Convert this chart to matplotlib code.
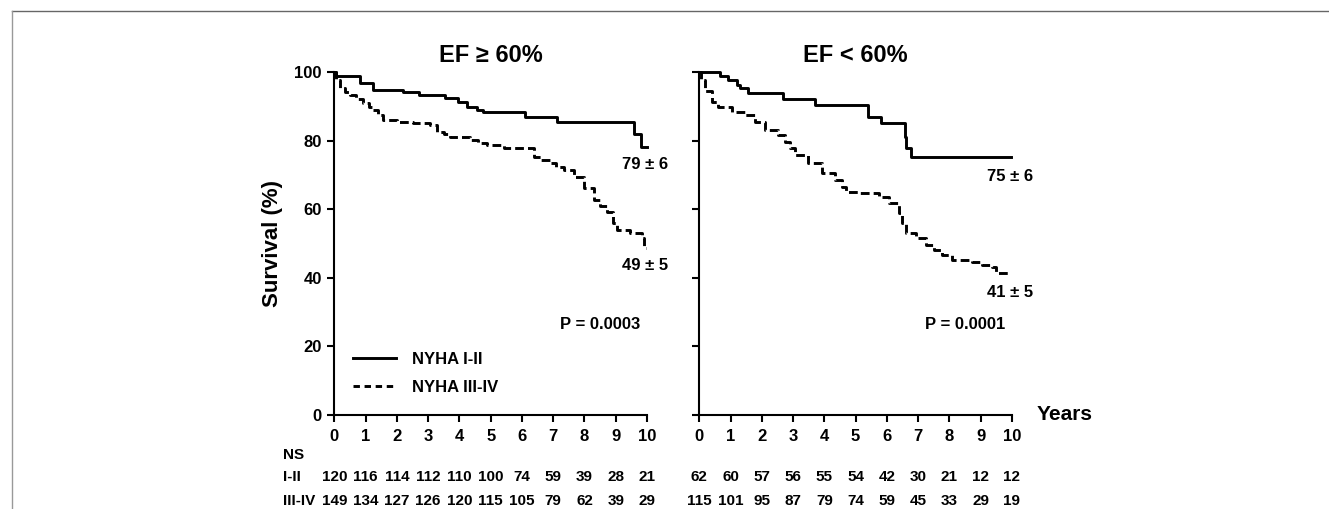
import matplotlib
matplotlib.use("Agg")
import matplotlib.pyplot as plt
from matplotlib.lines import Line2D
from matplotlib.transforms import blended_transform_factory

plt.rcParams['font.family'] = ['Liberation Sans', 'DejaVu Sans']
plt.rcParams['font.weight'] = 'bold'

# Kaplan-Meier curves (time in years, survival in %)
ef_hi_nyha12_t = [0, 0.05, 0.82, 1.23, 2.21, 2.72, 3.55, 3.97, 4.24, 4.56, 4.77, 6.11, 7.13, 9.58, 9.80, 10.0]
ef_hi_nyha12_s = [100, 98.9, 96.9, 94.8, 94.1, 93.3, 92.5, 91.1, 89.9, 88.9, 88.2, 86.8, 85.4, 81.9, 78.2, 78.2]

ef_hi_nyha34_t = [0, 0.05, 0.18, 0.35, 0.5, 0.7, 0.93, 1.1, 1.25, 1.4, 1.57, 2.0, 2.53, 3.07, 3.28, 3.5,
                  3.71, 4.35, 4.6, 4.88, 5.42, 6.38, 6.6, 6.91, 7.1, 7.34, 7.66, 7.98, 8.29, 8.5, 8.72,
                  8.9, 9.04, 9.46, 9.84, 9.92, 9.96]
ef_hi_nyha34_s = [100, 97.7, 95.2, 94.2, 93.3, 92.2, 90.9, 89.8, 88.9, 87.5, 86.0, 85.5, 85.0, 84.5, 82.6, 81.8,
                  81.1, 80.2, 79.4, 78.7, 77.8, 75.3, 74.4, 73.4, 72.4, 71.4, 69.5, 66.1, 62.7, 61.0, 59.3,
                  56.0, 53.9, 53.0, 51.5, 48.6, 48.6]

ef_lo_nyha12_t = [0, 0.66, 0.92, 1.2, 1.3, 1.57, 2.69, 3.7, 5.4, 5.82, 6.57, 6.62, 6.77, 9.98]
ef_lo_nyha12_s = [100, 98.9, 97.5, 96.3, 95.2, 93.8, 92.1, 90.4, 87.0, 85.0, 81.1, 77.8, 75.3, 75.3]

ef_lo_nyha34_t = [0, 0.04, 0.18, 0.39, 0.61, 1.04, 1.46, 1.78, 2.1, 2.53, 2.74, 2.9, 3.06, 3.49, 3.92, 4.34,
                  4.55, 4.68, 5.11, 5.75, 6.07, 6.39, 6.5, 6.6, 6.92, 7.24, 7.5, 7.77, 8.09, 8.73, 9.05,
                  9.37, 9.48, 9.96]
ef_lo_nyha34_s = [100, 97.7, 94.3, 91.3, 89.9, 88.4, 87.5, 85.5, 83.1, 81.6, 79.7, 77.8, 75.8, 73.4, 70.5, 68.5,
                  66.6, 65.1, 64.7, 63.6, 61.7, 58.8, 56.0, 53.0, 51.5, 49.6, 48.1, 46.6, 45.2, 44.7, 43.7,
                  43.2, 41.5, 41.5]

years = list(range(0, 11))
risk_hi_12 = [120, 116, 114, 112, 110, 100, 74, 59, 39, 28, 21]
risk_hi_34 = [149, 134, 127, 126, 120, 115, 105, 79, 62, 39, 29]
risk_lo_12 = [62, 60, 57, 56, 55, 54, 42, 30, 21, 12, 12]
risk_lo_34 = [115, 101, 95, 87, 79, 74, 59, 45, 33, 29, 19]

titles = ['EF \u2265 60%', 'EF < 60%']
end_labels = [('79 \u00b1 6', '49 \u00b1 5'), ('75 \u00b1 6', '41 \u00b1 5')]
p_values = ['P = 0.0003', 'P = 0.0001']
row_labels = ['NS', 'I-II', 'III-IV']
legend_labels = ['NYHA I-II', 'NYHA III-IV']

fig = plt.figure(figsize=(13.29, 5.09), dpi=100)
ax1 = fig.add_axes([0.2516, 0.1847, 0.2352, 0.674])
ax2 = fig.add_axes([0.5262, 0.1847, 0.2352, 0.674])

lw = 2.1
dash = (3.0, 1.4)
panels = [
    (ax1, ef_hi_nyha12_t, ef_hi_nyha12_s, ef_hi_nyha34_t, ef_hi_nyha34_s, risk_hi_12, risk_hi_34),
    (ax2, ef_lo_nyha12_t, ef_lo_nyha12_s, ef_lo_nyha34_t, ef_lo_nyha34_s, risk_lo_12, risk_lo_34),
]

for i, (ax, t1, s1, t2, s2, r12, r34) in enumerate(panels):
    ax.plot(t1, s1, drawstyle='steps-post', color='black', lw=lw, clip_on=False)
    ax.plot(t2, s2, drawstyle='steps-post', color='black', lw=lw, dashes=dash, clip_on=False)

    ax.set_xlim(0, 10)
    ax.set_ylim(0, 100)
    ax.set_xticks(years)
    ax.set_yticks([0, 20, 40, 60, 80, 100])
    for side in ['top', 'right']:
        ax.spines[side].set_visible(False)
    for side in ['left', 'bottom']:
        ax.spines[side].set_linewidth(1.5)
    ax.tick_params(axis='both', direction='out', length=5, width=1.5, labelsize=12)
    ax.tick_params(axis='x', pad=5)
    ax.tick_params(axis='y', pad=4)
    ax.set_title(titles[i], fontsize=17, fontweight='bold', pad=7)

    ax.text(9.21, 72.9 if i == 0 else 69.5, end_labels[i][0], fontsize=12, fontweight='bold',
            ha='left', va='center')
    ax.text(9.21, 43.7 if i == 0 else 35.8, end_labels[i][1], fontsize=12, fontweight='bold',
            ha='left', va='center')
    ax.text(7.22, 26.3, p_values[i], fontsize=12, fontweight='bold', ha='left', va='center')

    # numbers at risk below the axis
    tr = blended_transform_factory(ax.transData, fig.transFigure)
    for x, a, b in zip(years, r12, r34):
        ax.text(x, 0.0629, str(a), transform=tr, fontsize=11, fontweight='bold',
                ha='center', va='center')
        ax.text(x, 0.0157, str(b), transform=tr, fontsize=11, fontweight='bold',
                ha='center', va='center')

ax2.set_yticklabels([])
ax1.set_ylabel('Survival (%)', fontsize=16, fontweight='bold', labelpad=8)
ax2.text(1.078, 0, 'Years', transform=ax2.transAxes, fontsize=15, fontweight='bold',
         ha='left', va='center')

handles = [Line2D([], [], color='black', lw=lw),
           Line2D([], [], color='black', lw=lw, dashes=(2.2, 1.6))]
ax1.legend(handles, legend_labels, loc='upper left', bbox_to_anchor=(0.06, 0.185),
           frameon=False, fontsize=12, handlelength=2.6, handletextpad=0.95,
           labelspacing=0.8, borderpad=0, borderaxespad=0)

for y, lab in zip([0.1061, 0.0629, 0.0157], row_labels):
    fig.text(0.213, y, lab, fontsize=11, fontweight='bold', ha='left', va='center')

# thin frame of the original figure panel
fig.add_artist(Line2D([0.009, 1.0], [0.979, 0.979], transform=fig.transFigure, color='#666666', lw=1.0))
fig.add_artist(Line2D([0.009, 0.009], [0.0, 0.979], transform=fig.transFigure, color='#999999', lw=1.0))

fig.savefig('out.png', dpi=100)
